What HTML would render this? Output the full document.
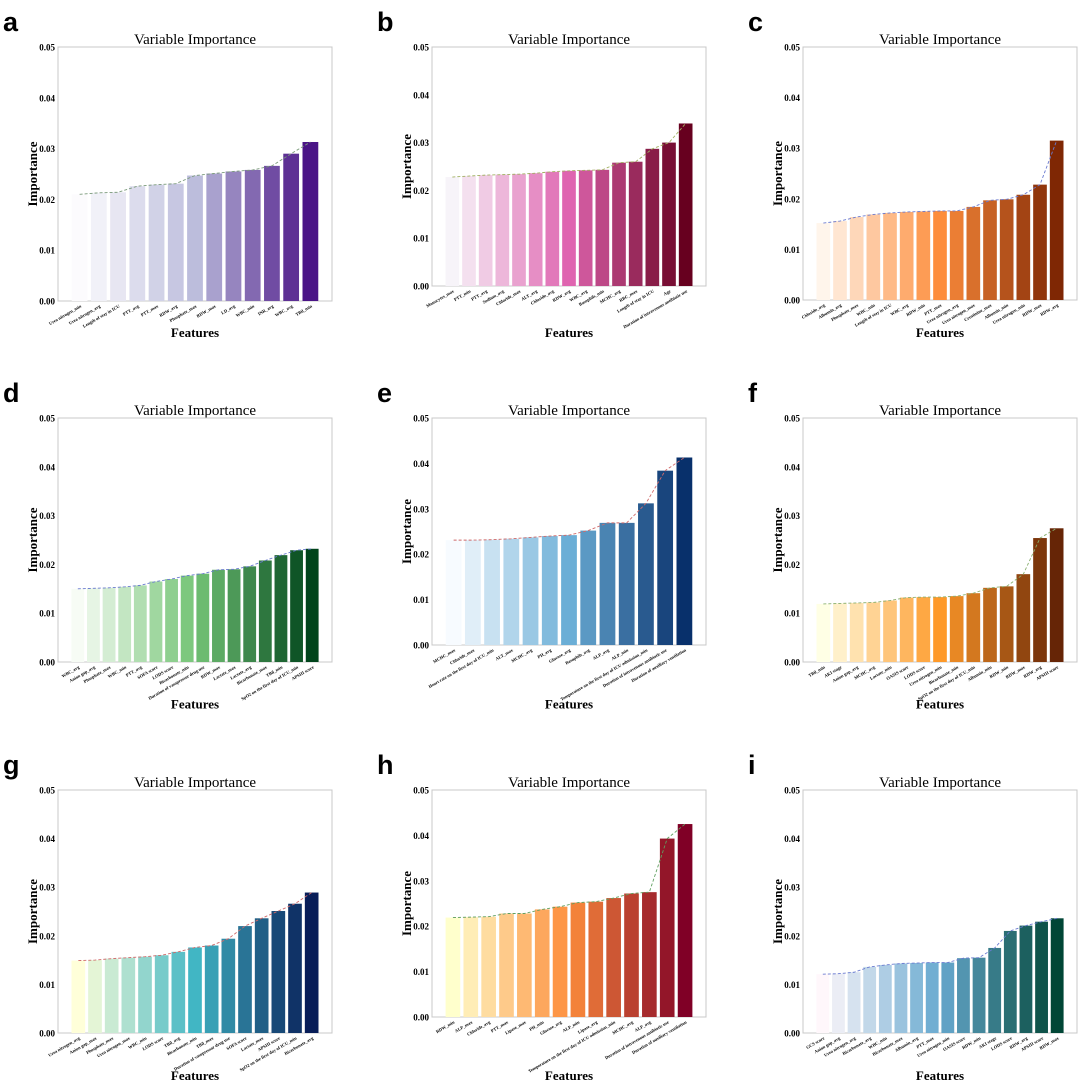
<!DOCTYPE html>
<html><head><meta charset="utf-8">
<style>
html,body{margin:0;padding:0;background:#fff;}
svg{display:block;font-family:"Liberation Serif",serif;}
</style></head>
<body>
<svg id="fig" width="1080" height="1081" viewBox="0 0 1080 1081" xmlns="http://www.w3.org/2000/svg"></svg>
<script>
// ---- data ----
const panelLetters = ["a","b","c","d","e","f","g","h","i"];
const labelsA = ["Urea nitrogen_min","Urea nitrogen_avg","Length of stay in ICU","PTT_avg","PTT_max","RDW_avg","Phosphate_max","RDW_max","LD_avg","WBC_min","INR_avg","WBC_avg","TBil_min"];
const valuesA = [0.0210,0.0213,0.0214,0.0226,0.0229,0.0231,0.0247,0.0251,0.0255,0.0258,0.0266,0.0290,0.0313];
const labelsB = ["Monocytes_max","PTT_min","PTT_avg","Sodium_avg","Chloride_max","ALT_avg","Chloride_avg","RDW_avg","WBC_avg","Basophils_min","MCHC_avg","RBC_max","Length of stay in ICU","Age","Duration of intravenous antibiotic use"];
const valuesB = [0.0228,0.0230,0.0232,0.0233,0.0234,0.0236,0.0239,0.0241,0.0242,0.0243,0.0258,0.0260,0.0287,0.0300,0.0340];
const labelsC = ["Chloride_avg","Albumin_avg","Phosphate_max","WBC_min","Length of stay in ICU","WBC_avg","RDW_min","PTT_max","Urea nitrogen_avg","Urea nitrogen_max","Creatinine_max","Albumin_min","Urea nitrogen_min","RDW_max","RDW_avg"];
const valuesC = [0.0152,0.0156,0.0164,0.0169,0.0172,0.0174,0.0175,0.0176,0.0176,0.0184,0.0197,0.0199,0.0208,0.0228,0.0315];
const labelsD = ["WBC_avg","Anion gap_avg","Phosphate_max","WBC_min","PTT_avg","SOFA score","LODS score","Bicarbonate_min","Duration of vasopressor drug use","RDW_max","Lactate_max","Lactate_avg","Bicarbonate_max","TBil_min","SpO2 on the first day of ICU_min","APSIII score"];
const valuesD = [0.0150,0.0151,0.0152,0.0154,0.0157,0.0165,0.0170,0.0177,0.0181,0.0189,0.0190,0.0196,0.0208,0.0219,0.0229,0.0232];
const labelsE = ["MCHC_max","Chloride_max","Heart rate on the first day of ICU_min","ALT_max","MCHC_avg","PH_avg","Glucose_avg","Basophils_avg","ALP_avg","ALP_min","Temperature on the first day of ICU admission_min","Duration of intravenous antibiotic use","Duration of auxiliary ventilation"];
const valuesE = [0.0231,0.0231,0.0232,0.0234,0.0237,0.0240,0.0242,0.0252,0.0269,0.0269,0.0312,0.0384,0.0413];
const labelsF = ["TBil_min","AKI stage","Anion gap_avg","MCHC_avg","Lactate_min","OASIS score","LODS score","Urea nitrogen_min","Bicarbonate_min","SpO2 on the first day of ICU_min","Albumin_min","RDW_min","RDW_max","RDW_avg","APSIII score"];
const valuesF = [0.0119,0.0120,0.0121,0.0122,0.0126,0.0132,0.0133,0.0133,0.0135,0.0141,0.0152,0.0155,0.0180,0.0254,0.0274];
const labelsG = ["Urea nitrogen_avg","Anion gap_max","Phosphate_max","Urea nitrogen_max","WBC_min","LODS score","TBil_avg","Bicarbonate_min","TBil_max","Duration of vasopressor drug use","SOFA score","Lactate_max","APSIII score","SpO2 on the first day of ICU_min","Bicarbonate_avg"];
const valuesG = [0.0149,0.0150,0.0153,0.0155,0.0157,0.0160,0.0167,0.0176,0.0180,0.0194,0.0220,0.0236,0.0251,0.0266,0.0289];
const labelsH = ["RDW_min","ALP_max","Chloride_avg","PTT_max","Lipase_max","PH_min","Glucose_avg","ALP_min","Lipase_avg","Temperature on the first day of ICU admission_min","MCHC_avg","ALP_avg","Duration of intravenous antibiotic use","Duration of auxiliary ventilation"];
const valuesH = [0.0219,0.0220,0.0221,0.0228,0.0228,0.0237,0.0243,0.0252,0.0254,0.0262,0.0272,0.0275,0.0393,0.0425];
const labelsI = ["GCS score","Anion gap_avg","Urea nitrogen_avg","Bicarbonate_avg","WBC_min","Bicarbonate_max","Albumin_avg","PTT_max","Urea nitrogen_min","OASIS score","RDW_min","AKI stage","LODS score","RDW_avg","APSIII score","RDW_max"];
const valuesI = [0.0121,0.0122,0.0125,0.0136,0.0140,0.0143,0.0144,0.0145,0.0145,0.0154,0.0155,0.0175,0.0210,0.0221,0.0229,0.0236];
const yTicks = [0,0.01,0.02,0.03,0.04,0.05];
const yTickLabels = ["0.00","0.01","0.02","0.03","0.04","0.05"];

const allLabels = [labelsA,labelsB,labelsC,labelsD,labelsE,labelsF,labelsG,labelsH,labelsI];
const allValues = [valuesA,valuesB,valuesC,valuesD,valuesE,valuesF,valuesG,valuesH,valuesI];

// ---- styling / layout (not data) ----
const cmaps = [
 [[252,251,253],[188,189,220],[74,20,134]],
 [[247,244,249],[223,101,176],[103,0,31]],
 [[255,245,235],[253,141,60],[127,39,4]],
 [[247,252,245],[116,196,118],[0,68,27]],
 [[247,251,255],[107,174,214],[8,48,107]],
 [[255,255,229],[254,153,41],[102,37,6]],
 [[255,255,217],[65,182,196],[8,29,88]],
 [[255,255,204],[253,141,60],[128,0,38]],
 [[255,247,251],[103,169,207],[1,70,54]]
];
const lineColors = ["#7a9a7a","#a0b060","#6a7ad0","#6a7ad0","#d06a6a","#8ab070","#d06a6a","#60a060","#6a7ad0"];
const colLeft = [58,432,803];
const rowTop = [47,418,790];
const bottoms = [301,286,300,662,645,662,1033,1017,1033];
const plotW = 274;

const NS = "http://www.w3.org/2000/svg";
const svg = document.getElementById("fig");
function mk(tag, attrs, parent){
  const e = document.createElementNS(NS, tag);
  for (const k in attrs) e.setAttribute(k, attrs[k]);
  (parent||svg).appendChild(e);
  return e;
}
function cmap(stops, t){
  let a,b,u;
  if (t<0.5){a=stops[0];b=stops[1];u=t/0.5;} else {a=stops[1];b=stops[2];u=(t-0.5)/0.5;}
  const c=[0,1,2].map(i=>Math.round(a[i]+(b[i]-a[i])*u));
  return "rgb("+c.join(",")+")";
}

for (let p=0;p<9;p++){
  const labels = allLabels[p], values = allValues[p];
  const n = values.length;
  const x0 = colLeft[p%3], y0 = rowTop[Math.floor(p/3)], y1 = bottoms[p];
  const g = mk("g", {});
  
  
  const yScale = v => y1 - (v/0.05)*(y1-y0);
  const margin = 12;
  const slot = (plotW - 2*margin)/n;
  const xScale = i => x0 + margin + slot*(i+0.5);

  const letter = mk("text", {x:x0-55, y:y0-16, "font-family":"Liberation Sans, sans-serif", "font-weight":"bold", "font-size":"27"}, g);
  letter.textContent = panelLetters[p];
  
  

  const title = mk("text", {x:x0+plotW/2, y:y0-3, "text-anchor":"middle", "font-size":"15"}, g);
  title.textContent = "Variable Importance";
  
  

  const frame = mk("rect", {x:x0, y:y0, width:plotW, height:y1-y0, fill:"none", stroke:"#c8c8c8", "stroke-width":"1"}, g);
  
  

  for (let k=0;k<yTicks.length;k++){
    const t = mk("text", {x:x0-3, y:yScale(yTicks[k])+3.5, "text-anchor":"end", "font-size":"9", "font-weight":"bold"}, g);
    t.textContent = yTickLabels[k];
    
    
  }
  const yt = mk("text", {transform:"translate("+(x0-21)+","+((y0+y1)/2)+") rotate(-90)", "text-anchor":"middle", "font-size":"13", "font-weight":"bold"}, g);
  yt.textContent = "Importance";
  
  

  const bw = slot*0.82;
  for (let i=0;i<n;i++){
    const r = mk("rect", {x:xScale(i)-bw/2, y:yScale(values[i]), width:bw, height:y1-yScale(values[i]), fill:cmap(cmaps[p], n>1? i/(n-1):0)}, g);
    
    
    const lx = xScale(i)+2, ly = y1+6;
    const lt = mk("text", {transform:"translate("+lx+","+ly+") rotate(-30)", "text-anchor":"end", "font-size":"4.5", "font-weight":"bold"}, g);
    lt.textContent = labels[i];
    
    
  }
  let d = "";
  for (let i=0;i<n;i++){ d += (i?"L":"M")+xScale(i)+","+yScale(values[i]); }
  const line = mk("path", {d:d, fill:"none", stroke:lineColors[p], "stroke-width":"0.9", "stroke-dasharray":"3,2"}, g);
  
  

  const xt = mk("text", {x:x0+plotW/2, y:Math.floor(p/3)*371.5+337, "text-anchor":"middle", "font-size":"13", "font-weight":"bold"}, g);
  xt.textContent = "Features";
  
  
}
</script>
</body></html>
